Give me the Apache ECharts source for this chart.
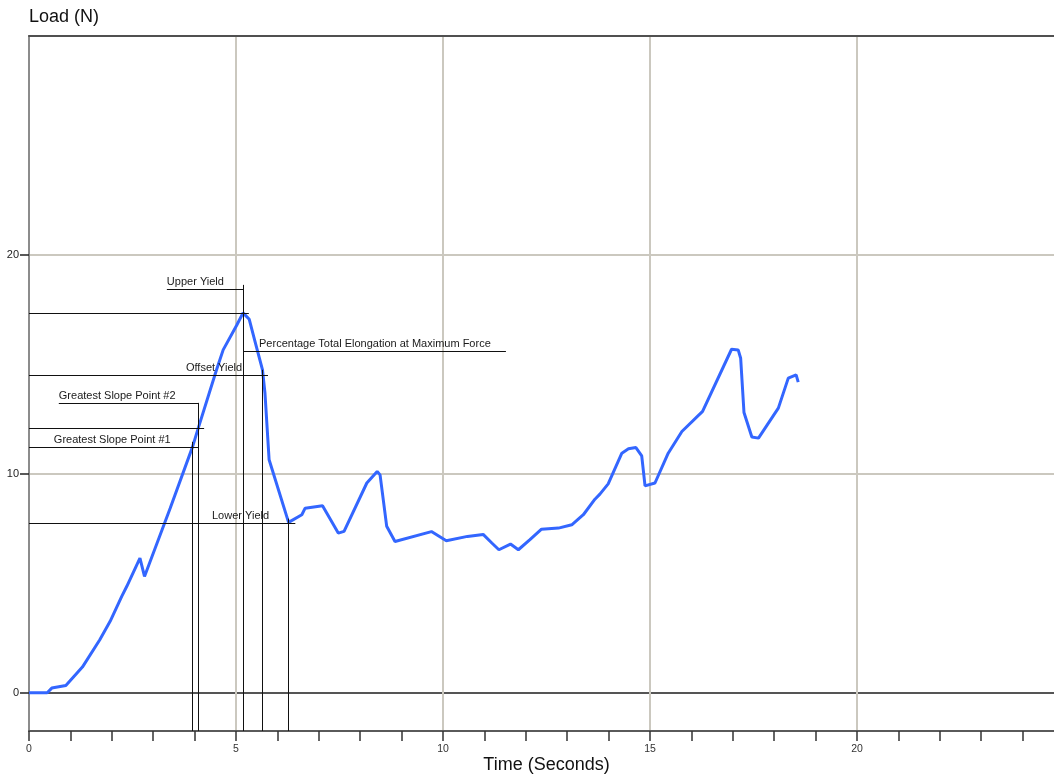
<!DOCTYPE html>
<html>
<head>
<meta charset="utf-8">
<title>Load vs Time</title>
<script src="https://cdn.jsdelivr.net/npm/echarts@6/dist/echarts.min.js"></script>
<style>
  html, body { margin: 0; padding: 0; background: #fff; }
  #chart { width: 1054px; height: 776px; }
</style>
</head>
<body>
<div id="chart"></div>
<script>
// Test curve: time (s) and load (N)
const time = [0, 0.44, 0.55, 0.89, 1.29, 1.71, 1.96, 2.24, 2.36, 2.68, 2.79, 3.41, 3.95, 4.09,
  4.53, 4.69, 5.02, 5.17, 5.32, 5.46, 5.64, 5.70, 5.80, 6.27, 6.59, 6.67, 7.09, 7.47, 7.61,
  8.16, 8.41, 8.48, 8.64, 8.84, 9.72, 10.08, 10.59, 10.97, 11.18, 11.35, 11.63, 11.82, 12.10,
  12.38, 12.79, 13.11, 13.39, 13.67, 13.79, 13.99, 14.32, 14.48, 14.66, 14.80, 14.88, 15.12,
  15.44, 15.77, 16.27, 16.97, 17.13, 17.19, 17.27, 17.46, 17.62, 18.10, 18.34, 18.53, 18.58];
const load = [0, 0, 0.21, 0.33, 1.17, 2.42, 3.26, 4.4, 4.85, 6.15, 5.31, 8.43, 11.23, 12.1,
  14.75, 15.66, 16.8, 17.35, 17.06, 16.04, 14.75, 13.68, 10.64, 7.78, 8.13, 8.43, 8.54, 7.29, 7.37,
  9.58, 10.11, 9.95, 7.6, 6.91, 7.36, 6.94, 7.14, 7.23, 6.84, 6.53, 6.79, 6.53, 6.99,
  7.47, 7.52, 7.67, 8.13, 8.84, 9.07, 9.54, 10.94, 11.14, 11.2, 10.82, 9.45, 9.58,
  10.94, 11.93, 12.85, 15.69, 15.66, 15.28, 12.8, 11.68, 11.63, 13.0, 14.37, 14.52, 14.19];

// Result points picked on the curve
const resultNames = ['Greatest Slope Point #1', 'Greatest Slope Point #2', 'Upper Yield',
  'Percentage Total Elongation at Maximum Force', 'Offset Yield', 'Lower Yield'];
const resultTime = [3.95, 4.09, 5.17, 5.17, 5.645, 6.27];
const resultLoad = [11.23, 12.1, 17.35, 17.35, 14.52, 7.76];

// Axis ticks
const xTickStep = 5;
const yTickValues = [0, 10, 20];

// Leader placement for each result label (data units): underline height, start, end,
// how far the horizontal guide runs, top of the vertical drop, text inset
const leaders = [
  { y: 11.23, x0: 0.6,  x1: 4.09,  guide: 4.09, top: 11.46, inset: 0 },
  { y: 13.24, x0: 0.72, x1: 4.09,  guide: 4.23, top: 13.24, inset: 0 },
  { y: 18.45, x0: 3.33, x1: 5.17,  guide: 5.31, top: 18.63, inset: 0 },
  { y: 15.62, x0: 5.17, x1: 11.52, guide: null, top: 15.62, inset: 16 },
  { y: 14.52, x0: 3.79, x1: 5.77,  guide: 5.77, top: 14.75, inset: 0 },
  { y: 7.76,  x0: 4.42, x1: 6.43,  guide: 6.43, top: 7.95,  inset: 0 }
];

const X_MIN = 0, X_MAX = 25, Y_MIN = -1.75, Y_MAX = 30;
const FONT = '"Liberation Sans", Arial, Helvetica, sans-serif';

const curve = time.map((t, i) => [t, load[i]]);

const segments = [];
resultNames.forEach((name, i) => {
  const L = leaders[i];
  // label underline with text
  segments.push([
    { name: name, coord: [L.x0, L.y],
      label: { show: true, formatter: name, position: 'insideStartTop',
               distance: [L.inset, 1], fontSize: 11, color: '#1a1a1a', fontFamily: FONT } },
    { coord: [L.x1, L.y] }
  ]);
  // horizontal guide from the load axis
  if (L.guide !== null) {
    segments.push([{ coord: [X_MIN, resultLoad[i]] }, { coord: [L.guide, resultLoad[i]] }]);
  }
  // vertical drop to the time axis
  segments.push([{ coord: [resultTime[i], L.top] }, { coord: [resultTime[i], Y_MIN] }]);
});

const chart = echarts.init(document.getElementById('chart'), null, { renderer: 'canvas' });
chart.setOption({
  animation: false,
  backgroundColor: '#ffffff',
  textStyle: { fontFamily: FONT },
  grid: { left: 29, width: 1035, top: 36, bottom: 45, containLabel: false, outerBoundsMode: 'none' },
  xAxis: [{
    type: 'value', position: 'bottom', min: X_MIN, max: X_MAX, interval: xTickStep,
    name: 'Time (Seconds)', nameLocation: 'middle', nameGap: 25, nameMoveOverlap: false,
    nameTextStyle: { fontSize: 18, color: '#111', fontFamily: FONT },
    axisLine: { show: true, onZero: false, lineStyle: { color: '#5a5a5a', width: 2 } },
    axisTick: { show: true, length: 10, lineStyle: { color: '#333', width: 1.5 } },
    minorTick: { show: true, splitNumber: 5, length: 10, lineStyle: { color: '#333', width: 1.5 } },
    axisLabel: { fontSize: 10.5, color: '#333', margin: 13, fontFamily: FONT },
    splitLine: { show: true, lineStyle: { color: '#cbc8bf', width: 2 } },
    minorSplitLine: { show: false }
  }, {
    type: 'value', position: 'top', min: X_MIN, max: X_MAX,
    axisLine: { show: true, onZero: false, lineStyle: { color: '#505050', width: 2 } },
    axisTick: { show: false }, axisLabel: { show: false }, splitLine: { show: false }
  }],
  yAxis: {
    type: 'value', min: Y_MIN, max: Y_MAX,
    name: 'Load (N)', nameLocation: 'end', nameGap: 19,
    nameTextStyle: { fontSize: 18, color: '#111', align: 'left', verticalAlign: 'middle', fontFamily: FONT },
    axisLine: { show: true, onZero: false, lineStyle: { color: '#8c8c8c', width: 2 } },
    axisTick: { show: true, customValues: yTickValues, length: 9, lineStyle: { color: '#222', width: 1.5 } },
    axisLabel: { customValues: yTickValues, fontSize: 11, color: '#222', margin: 10, fontFamily: FONT },
    splitLine: { show: true, lineStyle: { color: ['#555555', '#cbc8bf', '#cbc8bf'], width: 2 } }
  },
  series: [{
    type: 'line',
    data: curve,
    xAxisIndex: 0,
    showSymbol: false,
    symbol: 'none',
    silent: true,
    lineStyle: { color: '#3366ff', width: 3 },
    markLine: {
      silent: true,
      animation: false,
      symbol: ['none', 'none'],
      lineStyle: { color: '#111', width: 1, type: 'solid' },
      label: { show: false },
      emphasis: { disabled: true },
      data: segments
    }
  }]
});
</script>
</body>
</html>
